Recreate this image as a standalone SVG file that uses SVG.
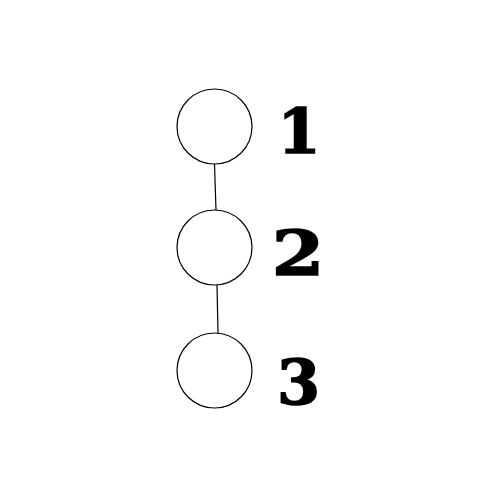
<svg xmlns="http://www.w3.org/2000/svg" width="500" height="500" viewBox="0 0 500 500">
<style>
.node circle{fill:#fff;stroke:#000;stroke-width:1.2}
.node text{font-family:"DejaVu Serif","Liberation Serif",serif;font-weight:bold;font-size:62px;fill:#000;stroke:#000;stroke-width:1.5;text-anchor:middle}
#connectors line{stroke:#000;stroke-width:1.2}
</style>
<rect width="500" height="500" fill="#fff"/>
<g id="connectors">
<line x1="214.5" y1="164" x2="216" y2="210"/>
<line x1="217" y1="285" x2="218" y2="333"/>
</g>
<g id="node1" class="node">
<circle cx="214.5" cy="126.5" r="37.5"/>
<text x="299" y="153">1</text>
</g>
<g id="node2" class="node">
<circle cx="214.5" cy="247.5" r="37.5"/>
<text x="0" y="0" transform="translate(298 275) scale(1.22 1)">2</text>
</g>
<g id="node3" class="node">
<circle cx="214.5" cy="370.5" r="37.5"/>
<text x="298.5" y="404">3</text>
</g>
</svg>
